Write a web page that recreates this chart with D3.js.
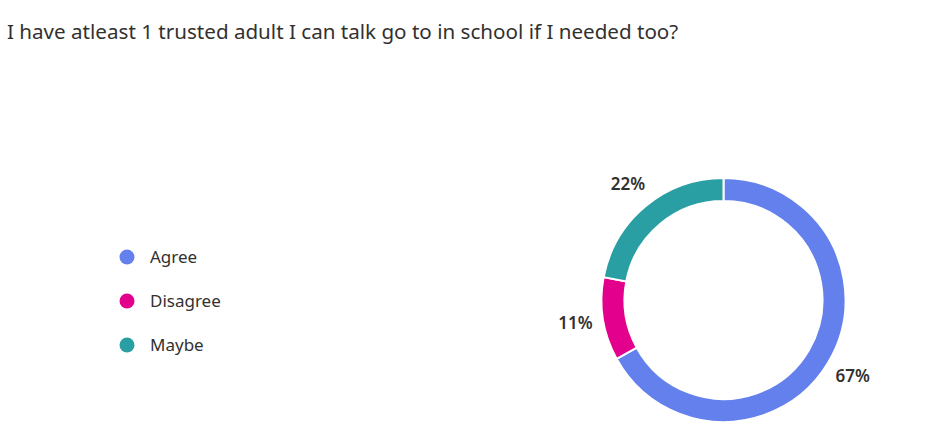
<!DOCTYPE html>
<html>
<head>
<meta charset="utf-8">
<script src="https://cdn.jsdelivr.net/npm/d3@7"></script>
<style>
  body { margin: 0; background: #fff; }
  text { font-family: "Noto Sans", "Open Sans", sans-serif; }
</style>
</head>
<body>
<svg id="chart" width="932" height="442"></svg>
<script>
"use strict";

// chart data
const title = "I have atleast 1 trusted adult I can talk go to in school if I needed too?";
const categories = ["Agree", "Disagree", "Maybe"];
const values = [67, 11, 22];
const colors = ["#6380EC", "#E3008C", "#2A9FA3"];

const svg = d3.select("#chart");

// title
svg.append("text")
  .attr("x", 7)
  .attr("y", 39)
  .attr("font-size", 20.6)
  .attr("fill", "#323130")
  .text(title);

// legend
const legend = svg.append("g");
const legendY = d3.scalePoint().domain(categories).range([257, 345]);
categories.forEach(function(c, i) {
  legend.append("circle")
    .attr("cx", 127)
    .attr("cy", legendY(c))
    .attr("r", 7.5)
    .attr("fill", colors[i]);
  legend.append("text")
    .attr("x", 150)
    .attr("y", legendY(c))
    .attr("dy", "0.35em")
    .attr("font-size", 17)
    .attr("fill", "#323130")
    .text(c);
});

// donut
const cx = 723.5, cy = 300, outerR = 122, innerR = 99, labelR = 150;
const pie = d3.pie().sort(null).value(function(d) { return d; });
const arcs = pie(values);
const arc = d3.arc().innerRadius(innerR).outerRadius(outerR);
const labelArc = d3.arc().innerRadius(labelR).outerRadius(labelR);

const g = svg.append("g").attr("transform", "translate(" + cx + "," + cy + ")");

g.selectAll("path")
  .data(arcs)
  .enter()
  .append("path")
  .attr("d", arc)
  .attr("fill", function(d, i) { return colors[i]; })
  .attr("stroke", "#fff")
  .attr("stroke-width", 2);

g.selectAll("text.lbl")
  .data(arcs)
  .enter()
  .append("text")
  .attr("class", "lbl")
  .attr("transform", function(d) { return "translate(" + labelArc.centroid(d) + ")"; })
  .attr("text-anchor", "middle")
  .attr("dy", "0.35em")
  .attr("font-size", 17)
  .attr("font-weight", 600)
  .attr("fill", "#323130")
  .text(function(d) { return d.data + "%"; });
</script>
</body>
</html>
